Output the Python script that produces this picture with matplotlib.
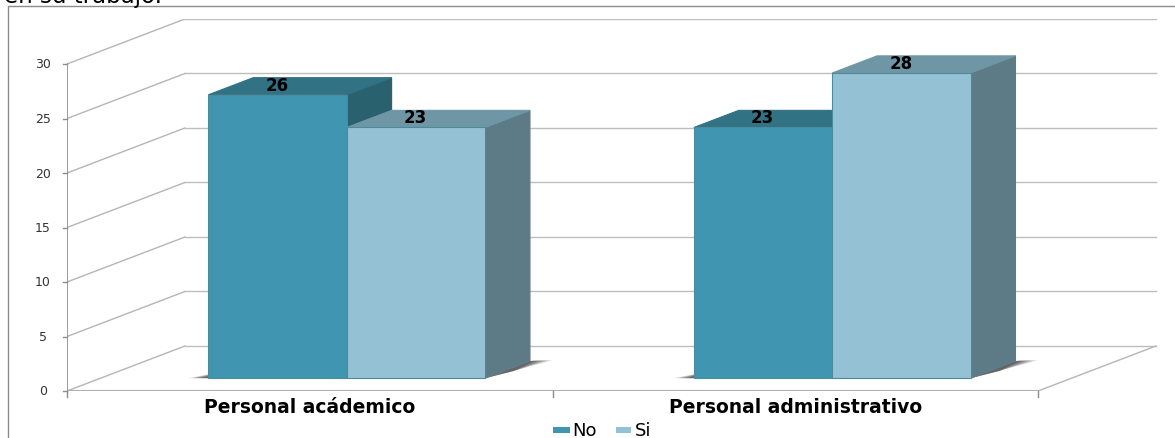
import matplotlib
matplotlib.use('Agg')
import matplotlib.pyplot as plt
import numpy as np
from matplotlib.patches import Polygon, Rectangle

categories = ['Personal acádemico', 'Personal administrativo']
no_values = [26, 23]
si_values = [23, 28]
y_ticks = [0, 5, 10, 15, 20, 25, 30]

W, H = 1175, 439
DEPTH_X = 0.243   # x units
DEPTH_Y = 4.13    # value units
FLOOR = 0.285     # bars sit this far into the depth
BAR_W = 0.285
BAR_D = 0.38      # share of the depth taken by a bar


def proj(x, y, z):
    # z is depth, 0 front, 1 back wall
    return x + z * DEPTH_X, y + z * DEPTH_Y


def face(ax, pts, color, z=3, ec=None, lw=0.8, alpha=None):
    xy = [proj(*p) for p in pts]
    ax.add_patch(Polygon(xy, closed=True, fc=color, ec=ec or color, lw=lw, zorder=z, alpha=alpha))


def shadow(ax, x0, x1):
    # soft shadow on the floor, left and right of a group
    z0, z1 = FLOOR, FLOOR + BAR_D
    for k in range(7):
        g = k * 0.005
        left = [(x0 - 0.042 + g, 0, z0), (x0, 0, z0), (x0, 0, z0 + 0.17)]
        face(ax, left, 'black', z=3, lw=0, alpha=0.12)
        g = k * 0.006
        right = [(x1, 0, z0), (x1, 0, z1), (x1 + 0.042 - g, 0, z1 + 0.02), (x1 + 0.02, 0, z0 + 0.16)]
        face(ax, right, 'black', z=3, lw=0, alpha=0.12)


def bar3d(ax, x0, val, front, top, side, z):
    x1 = x0 + BAR_W
    z0, z1 = FLOOR, FLOOR + BAR_D
    face(ax, [(x1, 0, z0), (x1, 0, z1), (x1, val, z1), (x1, val, z0)], side, z)
    face(ax, [(x0, val, z0), (x1, val, z0), (x1, val, z1), (x0, val, z1)], top, z)
    face(ax, [(x0, 0, z0), (x1, 0, z0), (x1, val, z0), (x0, val, z0)], front, z + 0.2, ec='#4d8a9c')
    tx, ty = proj(x0 + BAR_W / 2 - 0.047, val, z0 + BAR_D / 2)
    ax.text(tx, ty + 0.15, str(val), ha='center', va='center', fontsize=12, fontweight='bold',
            family='DejaVu Sans', color='black', zorder=z + 1)


fig = plt.figure(figsize=(W / 100, H / 100), dpi=100, facecolor='white')

# frame and cut off caption above it
fig.add_artist(Rectangle((8 / W, -0.02), (1190 - 8) / W, 1.02 - 7 / H, transform=fig.transFigure,
                         fc='white', ec='#8c8c8c', lw=1, zorder=-1))
fig.text(4 / W, 1 - 3 / H, 'en su trabajo.', fontsize=16.5, family='DejaVu Sans', va='baseline')

ax = fig.add_axes([67 / W, 1 - 392 / H, (1158 - 67) / W, (392 - 20) / H])
ax.set_xlim(0, (1158 - 67) / 485.5)
ax.set_ylim(0, (392 - 20) / 10.9)
ax.patch.set_alpha(0)
for s in ax.spines.values():
    s.set_visible(False)
ax.set_xticks([])
ax.set_yticks([])

for v in y_ticks:
    xb, yb = proj(0, v, 1)
    ax.plot([0, xb], [v, yb], color='#b5b5b5', lw=1, zorder=1)
    ax.plot([xb, 2 + DEPTH_X], [yb, yb], color='#bdbdbd', lw=1, zorder=1)
    ax.plot([-0.008, 0], [v, v], color='#8c8c8c', lw=1, clip_on=False, zorder=2)
    ax.text(-0.05, v, str(v), ha='center', va='center', fontsize=9, family='DejaVu Sans',
            color='#333333', clip_on=False)
ax.plot([0, 2], [0, 0], color='#b0b0b0', lw=1.5, zorder=2)
ax.plot([2, 2 + DEPTH_X], [0, DEPTH_Y], color='#b5b5b5', lw=1, zorder=1)
ax.plot([0, 0], [0, 30], color='#8c8c8c', lw=1.2, zorder=2)
for t in range(3):
    ax.plot([t, t], [-0.55, 0], color='#8c8c8c', lw=1, clip_on=False, zorder=2)

for i, (a, b) in enumerate(zip(no_values, si_values)):
    start = i + 0.5 - BAR_W + 0.007
    shadow(ax, start, start + 2 * BAR_W)
    bar3d(ax, start, a, '#4096b1', '#317284', '#29616f', 5)
    bar3d(ax, start + BAR_W, b, '#94c2d4', '#6f96a5', '#5d7b87', 6)
    ax.text(i + 0.5, -1.45, categories[i], ha='center', va='center', fontsize=13.5, fontweight='bold',
            family='DejaVu Sans', clip_on=False)

# legend
for px, pw, tx, col, lab in [(553, 17, 572, '#4096b1', 'No'), (616, 15, 635, '#94c2d4', 'Si')]:
    fig.add_artist(Rectangle((px / W, 1 - 434 / H), pw / W, 6 / H, transform=fig.transFigure, fc=col, ec='none'))
    fig.text(tx / W, 1 - 431 / H, lab, fontsize=13, family='DejaVu Sans', va='center')

fig.savefig('out.png', dpi=100)
